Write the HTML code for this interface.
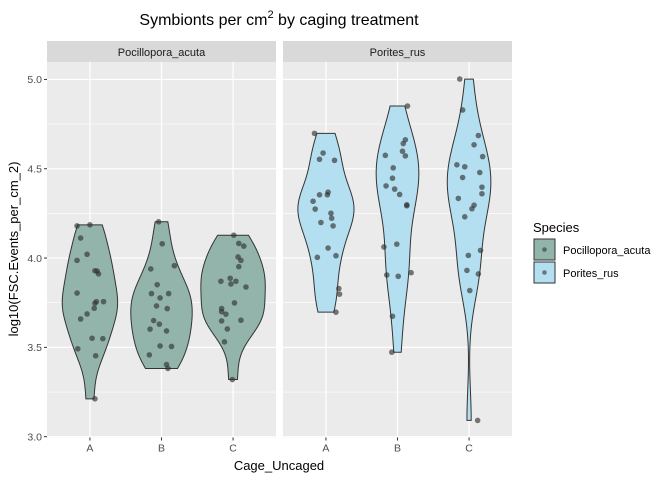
<!DOCTYPE html>
<html><head><meta charset="utf-8"><style>
body{margin:0;background:#fff}
svg{display:block;font-family:"Liberation Sans",Arial,sans-serif}
</style></head><body>
<svg id="chart" width="672" height="480" viewBox="0 0 672 480" xmlns="http://www.w3.org/2000/svg">
<text x="279" y="25" font-size="16" text-anchor="middle" fill="#000">Symbionts per cm<tspan font-size="11" dy="-7">2</tspan><tspan dy="7"> by caging treatment</tspan></text>
<g id="panels"></g>
<text transform="translate(18,249) rotate(-90)" font-size="13" text-anchor="middle">log10(FSC.Events_per_cm_2)</text>
<text x="279" y="470" font-size="13" text-anchor="middle">Cage_Uncaged</text>
<g>
<text x="533" y="232" font-size="13">Species</text>
<g>
<rect x="534" y="239" width="21" height="21" fill="#92b4ab" stroke="#333" stroke-width="1"/>
<circle cx="544.5" cy="249.5" r="2.3" fill="#333" opacity="0.6"/>
<text x="563" y="254" font-size="11">Pocillopora_acuta</text></g>
<g>
<rect x="534" y="262" width="21" height="21" fill="#b3dff0" stroke="#333" stroke-width="1"/>
<circle cx="544.5" cy="272.5" r="2.3" fill="#333" opacity="0.6"/>
<text x="563" y="277" font-size="11">Porites_rus</text></g>
</g>
</svg>
<script>
const panelNames=["Pocillopora_acuta","Porites_rus"];
const categories=["A","B","C"];
const yTicks=[3.0,3.5,4.0,4.5,5.0];
const yTickLabels=["3.0","3.5","4.0","4.5","5.0"];
const pA=[4.180,4.186,4.112,4.021,3.987,3.929,3.927,3.911,3.804,3.756,3.747,3.756,3.719,3.687,3.659,3.551,3.549,3.492,3.453,3.212];
const pAj=[-.18,0,-.13,-.04,-.18,.07,.10,.12,-.18,.09,.07,.19,.06,-.04,-.13,.03,.18,-.17,.08,.07];
const pB=[4.203,4.080,3.957,3.939,3.851,3.801,3.777,3.801,3.732,3.717,3.650,3.630,3.602,3.592,3.508,3.505,3.458,3.404,3.382];
const pBj=[-.04,.01,.18,-.15,-.06,-.14,-.02,.10,-.07,.08,-.11,-.03,-.16,.07,-.02,.14,-.17,.07,.09];
const pC=[4.128,4.082,4.067,4.006,3.987,3.952,3.870,3.887,3.855,3.870,3.838,3.749,3.717,3.700,3.686,3.648,3.652,3.603,3.531,3.320];
const pCj=[.01,.08,.15,.07,.11,.08,-.17,-.04,-.03,.04,.18,.02,-.16,-.16,-.10,-.16,.11,-.08,-.12,-.01];
const rA=[4.698,4.588,4.553,4.547,4.354,4.369,4.354,4.318,4.274,4.251,4.223,4.180,4.199,4.056,4.013,4.004,3.829,3.798,3.697];
const rAj=[-.16,-.04,-.09,.12,-.09,.03,.02,-.18,-.15,.07,.08,.10,-.07,.03,.14,-.12,.18,.19,.14];
const rB=[4.851,4.662,4.641,4.598,4.572,4.575,4.505,4.447,4.404,4.386,4.356,4.298,4.293,4.062,4.078,3.905,3.898,3.918,3.674,3.473];
const rBj=[.14,.11,.08,.07,.11,-.17,-.06,-.07,-.16,-.04,.03,.13,.13,-.19,-.01,-.15,.01,.19,-.07,-.08];
const rC=[5.002,4.829,4.686,4.634,4.568,4.522,4.511,4.479,4.451,4.397,4.360,4.334,4.296,4.276,4.231,4.043,4.015,3.931,3.911,3.818,3.091];
const rCj=[-.13,-.09,.13,.07,.19,-.17,-.06,.15,-.09,.18,.18,-.15,.07,.04,-.06,.16,-.01,-.03,.13,.01,.12];

const groups=[[pA,pB,pC],[rA,rB,rC]];
const jitters=[[pAj,pBj,pCj],[rAj,rBj,rCj]];
const fills=["#92b4ab","#b3dff0"];
const panelX=[[47,276],[283,512]];
const pTop=62,pBot=437.5;
const allVals=groups.flat(2);
const dmin=Math.min(...allVals),dmax=Math.max(...allVals),pad=(dmax-dmin)*0.05;
const yLo=dmin-pad,yHi=dmax+pad;
function yS(v){return pBot-(v-yLo)/(yHi-yLo)*(pBot-pTop);}
function xS(p,c){const [a,b]=panelX[p];const w=(b-a)/3.2;return a+(c+0.6)*w;}
const ns="http://www.w3.org/2000/svg";
function mk(t,at,parent){const e=document.createElementNS(ns,t);for(const k in at)e.setAttribute(k,at[k]);parent.appendChild(e);return e;}
function sd(a){const m=a.reduce((s,v)=>s+v,0)/a.length;return Math.sqrt(a.reduce((s,v)=>s+(v-m)*(v-m),0)/(a.length-1));}
function qt(a,p){const s=[...a].sort((x,y)=>x-y);const h=(s.length-1)*p,l=Math.floor(h);return s[l]+(s[Math.min(l+1,s.length-1)]-s[l])*(h-l);}
function kde(a){
  const n=a.length;const iqr=qt(a,.75)-qt(a,.25);
  const bw=0.9*Math.min(sd(a),iqr/1.34)*Math.pow(n,-0.2);
  const lo=Math.min(...a),hi=Math.max(...a);const pts=[];
  for(let i=0;i<=200;i++){const y=lo+(hi-lo)*i/200;let d=0;
    for(const v of a){const z=(y-v)/bw;d+=Math.exp(-z*z/2);}
    pts.push([y,d/(n*bw*Math.sqrt(2*Math.PI))]);}
  return pts;
}
const dens=groups.map(g=>g.map(kde));
const maxD=Math.max(...dens.flat().map(pts=>Math.max(...pts.map(p=>p[1]))));
const root=document.getElementById('panels');
panelNames.forEach((pn,p)=>{
  const [a,b]=panelX[p];const w=(b-a)/3.2;
  const g=mk('g',{},root);
  
  
  const bg=mk('rect',{x:a,y:pTop,width:b-a,height:pBot-pTop,fill:'#ebebeb'},g);
  
  
  const st=mk('rect',{x:a,y:41,width:b-a,height:21,fill:'#d9d9d9'},g);
  
  
  const stt=mk('text',{x:(a+b)/2,y:56,'font-size':'11','text-anchor':'middle',fill:'#1a1a1a'},g);
  stt.textContent=pn;
  
  
  for(let i=0;i<yTicks.length-1;i++){const m=(yTicks[i]+yTicks[i+1])/2;
    const l=mk('line',{x1:a,x2:b,y1:yS(m),y2:yS(m),stroke:'#fff','stroke-width':0.6},g);
    
    }
  yTicks.forEach(t=>{const l=mk('line',{x1:a,x2:b,y1:yS(t),y2:yS(t),stroke:'#fff','stroke-width':1.2},g);
    
    });
  categories.forEach((c,ci)=>{const x=xS(p,ci);
    const l=mk('line',{x1:x,x2:x,y1:pTop,y2:pBot,stroke:'#fff','stroke-width':1.2},g);
    
    
    const tk=mk('line',{x1:x,x2:x,y1:pBot,y2:pBot+3,stroke:'#333','stroke-width':1},g);
    
    
    const tl=mk('text',{x:x,y:pBot+14,'font-size':'10.5','text-anchor':'middle',fill:'#4d4d4d'},g);
    tl.textContent=c;
    
    
  });
  categories.forEach((c,ci)=>{const x=xS(p,ci);const pts=dens[p][ci];
    const hw=d=>d/maxD*0.45*w;
    let path='M'+pts.map(q=>(x+hw(q[1])).toFixed(2)+','+yS(q[0]).toFixed(2)).join('L');
    path+='L'+pts.slice().reverse().map(q=>(x-hw(q[1])).toFixed(2)+','+yS(q[0]).toFixed(2)).join('L')+'Z';
    const v=mk('path',{d:path,fill:fills[p],stroke:'#333','stroke-width':1},g);
    
    
    groups[p][ci].forEach((val,k)=>{
      const pt=mk('circle',{cx:x+jitters[p][ci][k]*w,cy:yS(val),r:2.8,fill:'#333','fill-opacity':0.65},g);
      
      
    });
  });
});
const svgEl=document.getElementById('chart');
yTicks.forEach((t,i)=>{
  const tk=mk('line',{x1:44,x2:47,y1:yS(t),y2:yS(t),stroke:'#333','stroke-width':1},svgEl);
  
  
  const tl=mk('text',{x:42,y:yS(t)+3.8,'font-size':'10.5','text-anchor':'end',fill:'#4d4d4d'},svgEl);
  tl.textContent=yTickLabels[i];
  
  
});
</script>
</body></html>
